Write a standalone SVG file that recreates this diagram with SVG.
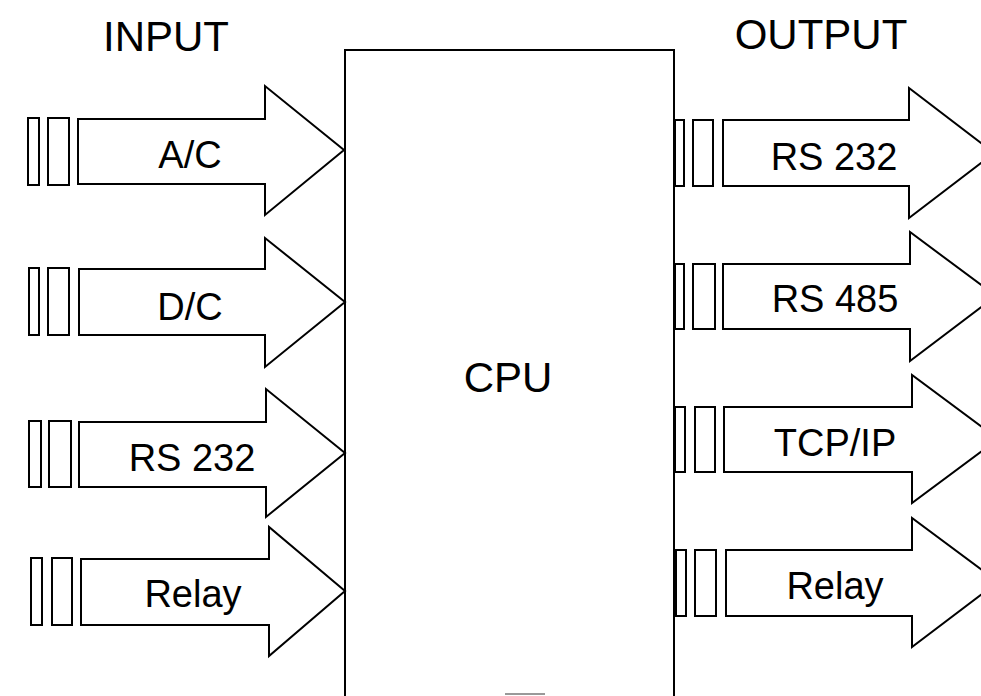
<svg xmlns="http://www.w3.org/2000/svg" width="981" height="696" viewBox="0 0 981 696">
<style>
.s{fill:#fff;stroke:#000;stroke-width:2;stroke-linejoin:miter}
.t{font-family:"Liberation Sans",Arial,sans-serif;font-size:38px;fill:#000;text-anchor:middle}
.h{font-family:"Liberation Sans",Arial,sans-serif;font-size:42px;fill:#000;text-anchor:middle}
</style>
<rect width="981" height="696" fill="#fff"/>
<text class="h" x="166" y="51">INPUT</text>
<text class="h" x="821" y="49">OUTPUT</text>
<g id="cpu">
<path class="s" d="M345,697 V50 H674 V697" fill="none"/>
<text class="h" x="508" y="392">CPU</text>
<line x1="505" y1="694" x2="545" y2="694" stroke="#999" stroke-width="2"/>
</g>
<g id="connectors">
<g id="in-ac">
<rect class="s" x="28" y="118" width="11" height="67"/>
<rect class="s" x="48" y="118" width="21" height="67"/>
<polygon class="s" points="78,119 265,119 265,86 344,150 265,215 265,184 78,184"/>
<text class="t" x="190" y="168">A/C</text>
</g>
<g id="in-dc">
<rect class="s" x="29" y="268" width="10" height="67"/>
<rect class="s" x="48" y="268" width="21" height="67"/>
<polygon class="s" points="79,269 265,269 265,238 345,302 265,367 265,335 79,335"/>
<text class="t" x="190" y="320">D/C</text>
</g>
<g id="in-rs232">
<rect class="s" x="29" y="421" width="12" height="66"/>
<rect class="s" x="49" y="421" width="22" height="66"/>
<polygon class="s" points="79,422 266,422 266,389 345,453 266,517 266,487 79,487"/>
<text class="t" x="192" y="471">RS 232</text>
</g>
<g id="in-relay">
<rect class="s" x="31" y="558" width="11" height="67"/>
<rect class="s" x="52" y="558" width="20" height="67"/>
<polygon class="s" points="81,559 269,559 269,527 345,591 269,656 269,625 81,625"/>
<text class="t" x="193" y="607">Relay</text>
</g>
<g id="out-rs232">
<rect class="s" x="675" y="120" width="9" height="66"/>
<rect class="s" x="693" y="120" width="20" height="66"/>
<polygon class="s" points="723,120 909,120 909,88 994,153 909,218 909,186 723,186"/>
<text class="t" x="834" y="170">RS 232</text>
</g>
<g id="out-rs485">
<rect class="s" x="675" y="264" width="9" height="65"/>
<rect class="s" x="693" y="264" width="22" height="65"/>
<polygon class="s" points="723,264 910,264 910,232 996,296 910,361 910,329 723,329"/>
<text class="t" x="835" y="312">RS 485</text>
</g>
<g id="out-tcpip">
<rect class="s" x="675" y="407" width="10" height="65"/>
<rect class="s" x="695" y="407" width="20" height="65"/>
<polygon class="s" points="724,407 912,407 912,375 998,439 912,503 912,472 724,472"/>
<text class="t" x="835" y="456">TCP/IP</text>
</g>
<g id="out-relay">
<rect class="s" x="676" y="550" width="10" height="66"/>
<rect class="s" x="695" y="550" width="21" height="66"/>
<polygon class="s" points="726,550 912,550 912,518 998,582 912,647 912,616 726,616"/>
<text class="t" x="835" y="599">Relay</text>
</g>
</g>
</svg>
